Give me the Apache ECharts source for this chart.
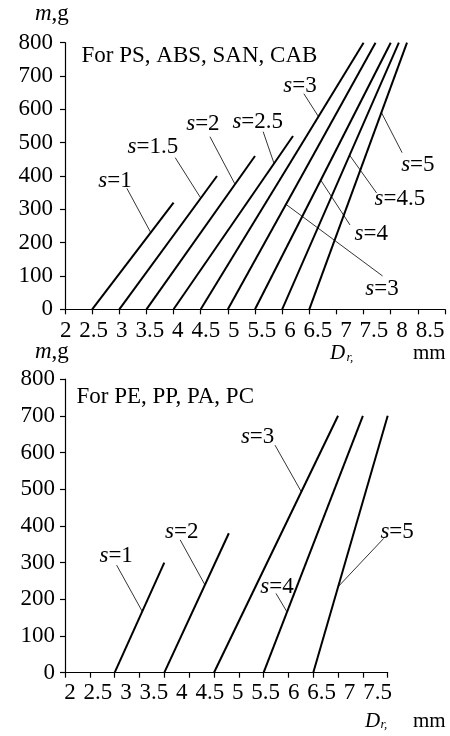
<!DOCTYPE html>
<html><head><meta charset="utf-8">
<script src="https://cdn.jsdelivr.net/npm/echarts@6/dist/echarts.min.js"></script>
<style>html,body{margin:0;padding:0;background:#fff}#c{width:450px;height:736px}</style>
</head><body><div id="c"></div>
<script>
// ---------- data ----------
// Top panel: For PS, ABS, SAN, CAB  (D_r in mm at m=0, end point D_r / m)
const topStartD = [2.5, 3, 3.5, 4, 4.5, 5, 5.5, 6, 6.5];
const topEndD   = [4.0, 4.8, 5.5, 6.2, 7.5, 7.72, 8.0, 8.15, 8.3];
const topEndM   = [320, 400, 460, 520, 800, 800, 800, 800, 800];
const topXLabels = ['2','2.5','3','3.5','4','4.5','5','5.5','6','6.5','7','7.5','8','8.5'];
// Bottom panel: For PE, PP, PA, PC
const botStartD = [3, 4, 5, 6, 7];
const botEndD   = [4.0, 5.3, 7.5, 8.0, 8.5];
const botEndM   = [300, 380, 700, 700, 700];
const botXLabels = ['2','2.5','3','3.5','4','4.5','5','5.5','6','6.5','7','7.5'];
// Curve labels: [s value, label anchor [D,m], leader start [D,m], leader end [D,m]]
const topNotes = [
  ['1',   [2.92,385], [3.14,363], [3.58,230]],
  ['1.5', [3.62,488], [4.03,455], [4.50,334]],
  ['2',   [4.54,557], [4.67,518], [5.13,376]],
  ['2.5', [5.55,563], [5.65,533], [5.85,438]],
  ['3',   [6.33,671], [6.40,647], [6.67,578]],
  ['5',   [8.50,433], [8.21,470], [7.83,590]],
  ['4.5', [8.17,331], [7.74,349], [7.24,463]],
  ['4',   [7.64,226], [7.25,253], [6.71,388]],
  ['3',   [7.84,61],  [7.85,100], [6.07,315]]
];
const botNotes = [
  ['1', [3.03,318], [3.04,293], [3.56,166]],
  ['2', [4.35,384], [4.32,362], [4.82,239]],
  ['3', [5.88,643], [6.23,620], [6.76,493]],
  ['4', [6.27,234], [6.25,216], [6.47,166]],
  ['5', [8.69,384], [8.42,366], [7.50,234]]
];

// ---------- chart ----------
const FONT = 'Liberation Serif';
const FS = 23;
const chart = echarts.init(document.getElementById('c'), null, {renderer:'canvas'});

function mainX(gi, max) {
  return {type:'value', gridIndex:gi, min:2, max:max, interval:0.5,
    axisLine:{show:true, onZero:false, lineStyle:{color:'#000', width:1.2}},
    axisTick:{show:true, length:5, lineStyle:{color:'#000', width:1.2}},
    axisLabel:{show:false}, splitLine:{show:false}};
}
function labelX(gi, labels, margin) {
  return {type:'category', gridIndex:gi, data:labels, boundaryGap:false,
    axisLine:{show:false}, axisTick:{show:false}, splitLine:{show:false},
    axisLabel:{show:true, interval:0, margin:margin, color:'#000', fontFamily:FONT, fontSize:FS}};
}
function mainY(gi, margin) {
  return {type:'value', gridIndex:gi, min:0, max:800, interval:100,
    axisLine:{show:true, lineStyle:{color:'#000', width:1.2}},
    axisTick:{show:true, length:5, lineStyle:{color:'#000', width:1.2}},
    axisLabel:{show:true, margin:margin, color:'#000', fontFamily:FONT, fontSize:FS},
    splitLine:{show:false}};
}
function hiddenY(gi) {
  return {type:'value', gridIndex:gi, min:0, max:800, show:false};
}

const series = [];
function addPanel(startD, endD, endM, notes, xi, yi) {
  startD.forEach((d, i) => {
    series.push({type:'line', xAxisIndex:xi, yAxisIndex:yi, symbol:'none', silent:true,
      lineStyle:{color:'#000', width:2}, data:[[d, 0], [endD[i], endM[i]]], z:3});
  });
  notes.forEach(n => {
    series.push({type:'line', xAxisIndex:xi, yAxisIndex:yi, symbol:'none', silent:true,
      lineStyle:{color:'#000', width:0.8}, data:[n[2], n[3]], z:2});
  });
  series.push({type:'scatter', xAxisIndex:xi, yAxisIndex:yi, silent:true, clip:false,
    symbolSize:0, itemStyle:{color:'#000'}, z:5,
    data: notes.map(n => [n[1][0], n[1][1], n[0]]),
    label:{show:true, position:[0,0], align:'center', verticalAlign:'middle',
      color:'#000', opacity:1, textBorderWidth:0,
      formatter: p => '{i|s}{n|=' + p.data[2] + '}',
      rich:{i:{fontFamily:FONT, fontSize:FS, fontStyle:'italic', color:'#000'},
            n:{fontFamily:FONT, fontSize:FS, color:'#000'}}}});
}
addPanel(topStartD, topEndD, topEndM, topNotes, 0, 0);
addPanel(botStartD, botEndD, botEndM, botNotes, 2, 2);

function txt(x, y, text, size, italic) {
  return {type:'text', x:x, y:y, silent:true,
    style:{text:text, fill:'#000', fontFamily:FONT, fontSize:size,
      fontStyle: italic ? 'italic' : 'normal', align:'left', verticalAlign:'middle'}};
}
function mg(x, y) {
  return {type:'text', x:x, y:y, silent:true,
    style:{text:'{i|m}{n|,g}', align:'left', verticalAlign:'middle',
      rich:{i:{fontFamily:FONT, fontSize:FS, fontStyle:'italic', fill:'#000'},
            n:{fontFamily:FONT, fontSize:FS, fill:'#000'}}}};
}

const option = {
  animation:false,
  backgroundColor:'#fff',
  grid:[
    {left:65, top:42.7, width:380, height:266.6},
    {left:65.7, top:42.7, width:364.3, height:266.6},
    {left:65, top:379.1, width:322.7, height:293.6},
    {left:70, top:379.1, width:307.5, height:293.6}
  ],
  xAxis:[mainX(0, 9), labelX(1, topXLabels, 10), mainX(2, 8.5), labelX(3, botXLabels, 9)],
  yAxis:[mainY(0, 12), hiddenY(1), mainY(2, 10), hiddenY(3)],
  series: series,
  graphic:[
    txt(81.5, 55.5, 'For PS, ABS, SAN, CAB', FS, false),
    txt(76.5, 396.7, 'For PE, PP, PA, PC', FS, false),
    mg(35, 14),
    mg(35, 351.5),
    txt(330, 353.8, 'D', 21, true),
    txt(346.5, 358, 'r,', 13, true),
    txt(413, 353.8, 'mm', 21, false),
    txt(365, 721, 'D', 21, true),
    txt(380.5, 725, 'r,', 13, true),
    txt(413, 721, 'mm', 21, false)
  ]
};
chart.setOption(option);
</script>
</body></html>
